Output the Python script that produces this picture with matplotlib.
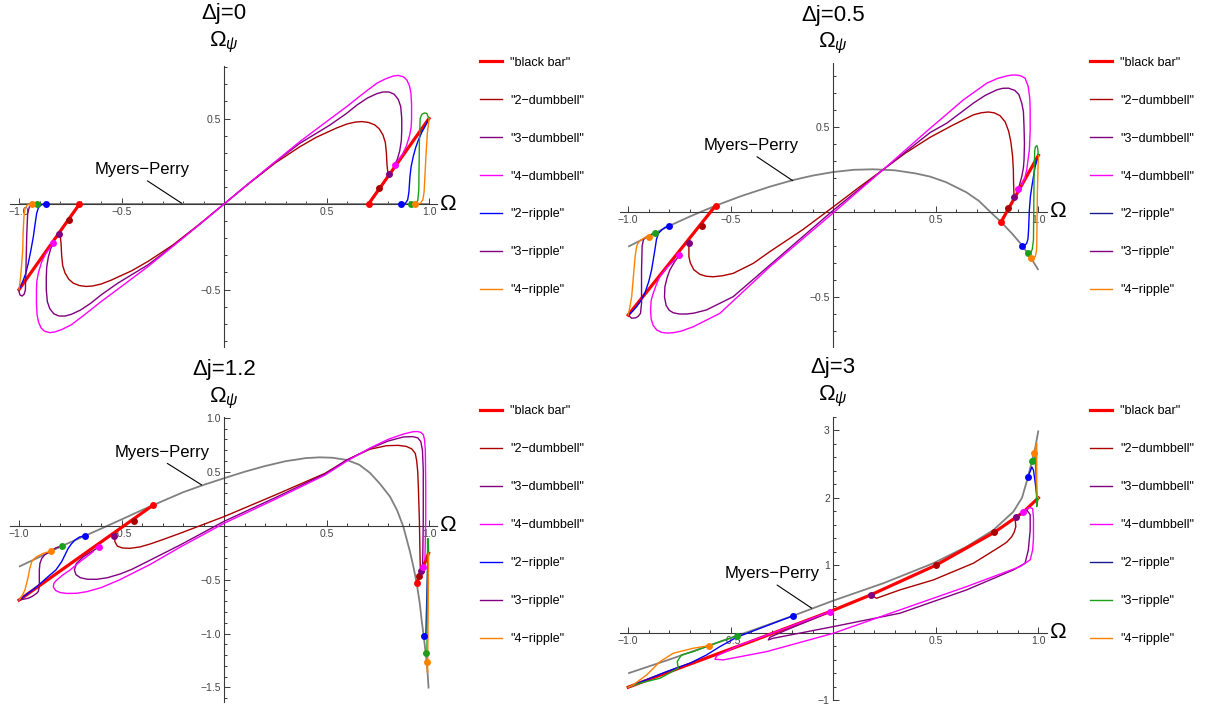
import numpy as np
import matplotlib
matplotlib.use("Agg")
import matplotlib.pyplot as plt
from matplotlib.lines import Line2D
from matplotlib.ticker import FixedLocator, FixedFormatter

plt.rcParams['font.family'] = ['Liberation Sans', 'DejaVu Sans']
plt.rcParams['mathtext.fontset'] = 'custom'
plt.rcParams['mathtext.rm'] = 'Liberation Sans'
plt.rcParams['mathtext.it'] = 'Liberation Sans:italic'

# ---------------- data ----------------
series = ['"black bar"', '"2\u2212dumbbell"', '"3\u2212dumbbell"', '"4\u2212dumbbell"',
          '"2\u2212ripple"', '"3\u2212ripple"', '"4\u2212ripple"']
titles = ['\u0394j=0', '\u0394j=0.5', '\u0394j=1.2', '\u0394j=3']

# Δj = 0
dj0_bar = [[(-1.0, -0.5), (-0.705, 0.0)], [(0.705, 0.0), (1.0, 0.5)]]
dj0_mp = [(-1.0, 0.0), (1.0, 0.0)]
dj0_d2 = [(0.80, 0.175), (0.795, 0.23), (0.792, 0.30), (0.787, 0.36), (0.775, 0.405), (0.757, 0.44),
          (0.735, 0.463), (0.705, 0.477), (0.672, 0.482), (0.64, 0.479), (0.60, 0.468), (0.55, 0.445),
          (0.45, 0.39), (0.37, 0.335), (0.25, 0.24), (0.12, 0.118), (0.0, 0.0),
          (-0.12, -0.118), (-0.25, -0.24), (-0.37, -0.335), (-0.45, -0.39), (-0.55, -0.445),
          (-0.60, -0.468), (-0.64, -0.479), (-0.672, -0.482), (-0.705, -0.477), (-0.735, -0.463),
          (-0.757, -0.44), (-0.775, -0.405), (-0.787, -0.36), (-0.792, -0.30), (-0.795, -0.23),
          (-0.80, -0.175)]
dj0_d3 = [(0.83, 0.225), (0.845, 0.26), (0.857, 0.31), (0.865, 0.37), (0.867, 0.43), (0.867, 0.50),
          (0.862, 0.57), (0.85, 0.612), (0.83, 0.642), (0.805, 0.655), (0.775, 0.655), (0.745, 0.645),
          (0.70, 0.62), (0.65, 0.58), (0.598, 0.53), (0.517, 0.462), (0.37, 0.355), (0.25, 0.245),
          (0.12, 0.12), (0.0, 0.0), (-0.12, -0.12), (-0.25, -0.245), (-0.37, -0.355), (-0.517, -0.462),
          (-0.598, -0.53), (-0.65, -0.58), (-0.70, -0.62), (-0.745, -0.645), (-0.775, -0.655),
          (-0.805, -0.655), (-0.83, -0.642), (-0.85, -0.612), (-0.862, -0.57), (-0.867, -0.50),
          (-0.867, -0.43), (-0.865, -0.37), (-0.857, -0.31), (-0.845, -0.26), (-0.83, -0.225)]
dj0_d4 = [(0.845, 0.25), (0.87, 0.29), (0.89, 0.34), (0.905, 0.40), (0.913, 0.45), (0.915, 0.50),
          (0.915, 0.58), (0.912, 0.647), (0.905, 0.69), (0.892, 0.725), (0.875, 0.744), (0.85, 0.752),
          (0.825, 0.748), (0.79, 0.733), (0.745, 0.706), (0.68, 0.647), (0.598, 0.569), (0.517, 0.497),
          (0.37, 0.365), (0.25, 0.248), (0.12, 0.12), (0.0, 0.0), (-0.12, -0.12), (-0.25, -0.248),
          (-0.37, -0.365), (-0.517, -0.497), (-0.598, -0.569), (-0.68, -0.647), (-0.745, -0.706),
          (-0.79, -0.733), (-0.825, -0.748), (-0.85, -0.752), (-0.875, -0.744), (-0.892, -0.725),
          (-0.905, -0.69), (-0.912, -0.647), (-0.915, -0.58), (-0.915, -0.50), (-0.913, -0.45),
          (-0.905, -0.40), (-0.89, -0.34), (-0.87, -0.29), (-0.845, -0.25)]
dj0_r2 = [[(-0.868, 0.0), (-0.89, -0.004), (-0.905, -0.02), (-0.914, -0.055), (-0.922, -0.12),
           (-0.93, -0.19), (-0.942, -0.27), (-0.955, -0.347), (-0.967, -0.405), (-0.979, -0.444),
           (-0.99, -0.475), (-1.0, -0.5)],
          [(0.865, 0.0), (0.885, 0.004), (0.896, 0.025), (0.902, 0.07), (0.907, 0.16), (0.913, 0.22),
           (0.923, 0.277), (0.935, 0.33), (0.948, 0.374), (0.965, 0.42), (0.98, 0.452), (1.0, 0.5)]]
dj0_r3 = [[(-0.912, 0.0), (-0.935, -0.004), (-0.95, -0.018), (-0.958, -0.06), (-0.962, -0.171),
           (-0.966, -0.367), (-0.969, -0.503), (-0.975, -0.527), (-0.985, -0.538), (-0.995, -0.532),
           (-1.0, -0.513), (-1.0, -0.5)],
          [(0.911, 0.0), (0.935, 0.003), (0.945, 0.02), (0.95, 0.08), (0.953, 0.355), (0.957, 0.50),
           (0.965, 0.525), (0.978, 0.532), (0.989, 0.53), (0.994, 0.515), (1.0, 0.5)]]
dj0_r4 = [[(-0.936, 0.0), (-0.958, -0.004), (-0.97, -0.025), (-0.976, -0.074), (-0.98, -0.17),
           (-0.982, -0.269), (-0.987, -0.35), (-0.992, -0.425), (-1.0, -0.5)],
          [(0.933, 0.0), (0.958, 0.004), (0.97, 0.025), (0.976, 0.07), (0.98, 0.16), (0.984, 0.257),
           (0.988, 0.34), (0.992, 0.413), (1.0, 0.5)]]
dj0_dots = [[(-0.705, 0.0), (0.705, 0.0)], [(-0.755, -0.094), (0.755, 0.094)],
            [(-0.803, -0.177), (0.803, 0.177)], [(-0.834, -0.23), (0.834, 0.23)],
            [(-0.868, 0.0), (0.865, 0.0)], [(-0.912, 0.0), (0.911, 0.0)],
            [(-0.936, 0.0), (0.933, 0.0)]]

# Δj = 0.5
dj05_bar = [[(-1.0, -0.606), (-0.574, 0.037)], [(0.818, -0.059), (1.0, 0.333)]]
dj05_mp = [(-1.0, -0.204), (-0.9, -0.143), (-0.8, -0.082), (-0.7, -0.027), (-0.574, 0.037),
           (-0.45, 0.093), (-0.309, 0.149), (-0.195, 0.188), (-0.1, 0.214), (0.0, 0.235), (0.1, 0.248),
           (0.195, 0.251), (0.3, 0.245), (0.4, 0.227), (0.472, 0.208), (0.55, 0.175), (0.65, 0.115),
           (0.71, 0.065), (0.764, 0.002), (0.818, -0.059), (0.87, -0.125), (0.922, -0.198),
           (0.963, -0.269), (1.0, -0.341)]
dj05_d2 = [(0.881, 0.10), (0.879, 0.17), (0.878, 0.247), (0.874, 0.33), (0.866, 0.41), (0.855, 0.475),
           (0.838, 0.53), (0.813, 0.566), (0.785, 0.583), (0.756, 0.588), (0.72, 0.583), (0.683, 0.571),
           (0.585, 0.512), (0.472, 0.439), (0.35, 0.345), (0.244, 0.25), (0.12, 0.14), (0.0, 0.03),
           (-0.15, -0.105), (-0.309, -0.233), (-0.39, -0.302), (-0.488, -0.361), (-0.54, -0.375),
           (-0.585, -0.381), (-0.62, -0.378), (-0.65, -0.367), (-0.68, -0.34), (-0.697, -0.30),
           (-0.704, -0.263), (-0.704, -0.18)]
dj05_d3 = [(0.902, 0.133), (0.919, 0.208), (0.927, 0.26), (0.930, 0.306), (0.932, 0.40), (0.930, 0.502),
           (0.927, 0.59), (0.919, 0.64), (0.905, 0.69), (0.885, 0.715), (0.854, 0.728), (0.825, 0.727),
           (0.797, 0.718), (0.74, 0.685), (0.683, 0.64), (0.553, 0.522), (0.472, 0.467), (0.244, 0.25),
           (0.0, 0.01), (-0.309, -0.312), (-0.488, -0.498), (-0.618, -0.576), (-0.68, -0.595),
           (-0.715, -0.60), (-0.75, -0.60), (-0.78, -0.593), (-0.80, -0.578), (-0.815, -0.55),
           (-0.823, -0.50), (-0.821, -0.439), (-0.81, -0.385), (-0.797, -0.341), (-0.775, -0.295),
           (-0.751, -0.255)]
dj05_d4 = [(0.919, 0.159), (0.935, 0.205), (0.943, 0.247), (0.956, 0.365), (0.96, 0.48), (0.96, 0.60),
           (0.958, 0.67), (0.95, 0.74), (0.935, 0.787), (0.915, 0.80), (0.895, 0.805), (0.87, 0.805),
           (0.846, 0.80), (0.80, 0.785), (0.748, 0.757), (0.634, 0.659), (0.52, 0.541), (0.472, 0.492),
           (0.244, 0.25), (0.0, -0.005), (-0.309, -0.322), (-0.553, -0.596), (-0.683, -0.675),
           (-0.74, -0.70), (-0.78, -0.71), (-0.81, -0.712), (-0.837, -0.708), (-0.86, -0.695),
           (-0.878, -0.668), (-0.888, -0.63), (-0.891, -0.576), (-0.888, -0.52), (-0.878, -0.478),
           (-0.862, -0.425), (-0.846, -0.38), (-0.81, -0.325), (-0.772, -0.282)]
dj05_r2 = [[(-0.799, -0.082), (-0.82, -0.09), (-0.837, -0.106), (-0.852, -0.125), (-0.862, -0.16),
            (-0.87, -0.224), (-0.886, -0.341), (-0.9, -0.41), (-0.919, -0.478), (-0.94, -0.525),
            (-0.959, -0.557), (-0.98, -0.585), (-1.0, -0.606)],
           [(0.922, -0.198), (0.935, -0.195), (0.943, -0.184), (0.949, -0.16), (0.952, -0.11),
            (0.956, 0.012), (0.961, 0.09), (0.968, 0.149), (0.984, 0.266), (1.0, 0.331)]]
dj05_r3 = [[(-0.87, -0.122), (-0.895, -0.136), (-0.91, -0.145), (-0.925, -0.16), (-0.932, -0.2),
            (-0.935, -0.341), (-0.935, -0.537), (-0.94, -0.596), (-0.95, -0.612), (-0.962, -0.622),
            (-0.983, -0.625), (-1.0, -0.606)],
           [(0.948, -0.243), (0.962, -0.24), (0.97, -0.22), (0.976, -0.165), (0.979, 0.208),
            (0.982, 0.36), (0.986, 0.384), (0.993, 0.39), (0.997, 0.37), (1.0, 0.331)]]
dj05_r4 = [[(-0.901, -0.145), (-0.925, -0.155), (-0.943, -0.169), (-0.953, -0.185), (-0.959, -0.204),
            (-0.966, -0.26), (-0.972, -0.341), (-0.983, -0.498), (-0.992, -0.56), (-1.0, -0.606)],
           [(0.963, -0.269), (0.975, -0.268), (0.984, -0.263), (0.99, -0.235), (0.992, -0.204),
            (0.995, 0.11), (0.998, 0.25), (1.0, 0.331)]]
dj05_dots = [[(-0.574, 0.037), (0.818, -0.059)], [(-0.642, -0.08), (0.854, 0.022)],
             [(-0.704, -0.18), (0.883, 0.09)], [(-0.751, -0.255), (0.902, 0.133)],
             [(-0.799, -0.082), (0.922, -0.198)], [(-0.87, -0.122), (0.948, -0.243)],
             [(-0.901, -0.145), (0.963, -0.269)]]

# Δj = 1.2
dj12_bar = [[(-1.0, -0.69), (-0.345, 0.192)], [(0.94, -0.534), (0.998, -0.256)]]
dj12_mp = [(-1.0, -0.38), (-0.9, -0.29), (-0.8, -0.196), (-0.7, -0.112), (-0.6, -0.028), (-0.5, 0.058),
           (-0.4, 0.145), (-0.3, 0.228), (-0.2, 0.31), (-0.1, 0.378), (0.0, 0.44), (0.1, 0.5),
           (0.2, 0.553), (0.3, 0.598), (0.4, 0.627), (0.468, 0.634), (0.53, 0.63), (0.6, 0.609),
           (0.66, 0.565), (0.712, 0.49), (0.76, 0.39), (0.81, 0.269), (0.845, 0.14), (0.875, -0.01),
           (0.907, -0.24), (0.925, -0.39), (0.94, -0.534), (0.955, -0.72), (0.964, -0.875),
           (0.974, -1.023), (0.984, -1.184), (0.989, -1.267), (0.994, -1.39), (0.998, -1.51)]
dj12_d2 = [(0.958, -0.43), (0.956, -0.256), (0.953, 0.053), (0.948, 0.362), (0.945, 0.5),
           (0.94, 0.6), (0.933, 0.67), (0.916, 0.712), (0.89, 0.735), (0.85, 0.745), (0.793, 0.742),
           (0.712, 0.709), (0.6, 0.61), (0.493, 0.486), (0.25, 0.285), (0.0, 0.084),
           (-0.215, -0.071), (-0.3, -0.13), (-0.361, -0.17), (-0.41, -0.197), (-0.459, -0.21),
           (-0.495, -0.207), (-0.52, -0.19), (-0.532, -0.15), (-0.535, -0.093)]
dj12_d3 = [(0.969, -0.38), (0.972, 0.053), (0.972, 0.517), (0.968, 0.70), (0.96, 0.78), (0.945, 0.815),
           (0.92, 0.826), (0.875, 0.823), (0.8, 0.785), (0.712, 0.715), (0.6, 0.61), (0.493, 0.48),
           (0.25, 0.26), (0.0, 0.04), (-0.215, -0.18), (-0.361, -0.32), (-0.45, -0.405),
           (-0.507, -0.448), (-0.57, -0.483), (-0.621, -0.497), (-0.665, -0.497), (-0.7, -0.483),
           (-0.722, -0.455), (-0.73, -0.41), (-0.72, -0.35), (-0.686, -0.288), (-0.608, -0.195)]
dj12_d4 = [(0.98, -0.318), (0.984, 0.053), (0.984, 0.362), (0.982, 0.70), (0.978, 0.80),
           (0.972, 0.845), (0.96, 0.865), (0.945, 0.873), (0.923, 0.872), (0.875, 0.85), (0.8, 0.80),
           (0.712, 0.72), (0.6, 0.60), (0.493, 0.47), (0.25, 0.245), (0.0, 0.022), (-0.215, -0.2),
           (-0.361, -0.36), (-0.507, -0.5), (-0.6, -0.575), (-0.67, -0.612), (-0.72, -0.627),
           (-0.767, -0.628), (-0.8, -0.62), (-0.822, -0.6), (-0.833, -0.566), (-0.83, -0.535),
           (-0.816, -0.504), (-0.785, -0.455), (-0.751, -0.411), (-0.7, -0.33), (-0.638, -0.241)]
dj12_r2 = [[(-0.678, -0.093), (-0.705, -0.105), (-0.727, -0.133), (-0.745, -0.17), (-0.76, -0.21),
            (-0.792, -0.334), (-0.82, -0.41), (-0.849, -0.457), (-0.914, -0.566), (-1.0, -0.69)],
           [(0.974, -1.023), (0.985, -1.0), (0.99, -0.6), (0.995, -0.26)]]
dj12_r3 = [[(-0.789, -0.186), (-0.82, -0.205), (-0.849, -0.241), (-0.875, -0.27), (-0.889, -0.303),
            (-0.898, -0.35), (-0.901, -0.411), (-0.901, -0.566), (-0.906, -0.61), (-0.914, -0.627),
            (-0.935, -0.655), (-0.955, -0.673), (-1.0, -0.69)],
           [(0.984, -1.184), (0.99, -1.17), (0.992, -0.6), (0.993, -0.12), (0.996, -0.12), (0.998, -0.256)]]
dj12_r4 = [[(-0.842, -0.235), (-0.88, -0.255), (-0.914, -0.288), (-0.928, -0.31), (-0.938, -0.334),
            (-0.948, -0.4), (-0.955, -0.473), (-0.971, -0.596), (-0.985, -0.65), (-1.0, -0.69)],
           [(0.989, -1.267), (0.993, -1.36), (0.996, -0.8), (0.998, -0.256)]]
dj12_dots = [[(-0.345, 0.192), (0.94, -0.534)], [(-0.439, 0.044), (0.953, -0.467)],
             [(-0.535, -0.093), (0.961, -0.417)], [(-0.608, -0.195), (0.969, -0.38)],
             [(-0.678, -0.093), (0.974, -1.023)], [(-0.789, -0.186), (0.984, -1.184)],
             [(-0.842, -0.235), (0.989, -1.267)]]

# Δj = 3
dj3_bar = [[(-1.0, -0.81), (-0.754, -0.529), (-0.4, -0.13), (-0.016, 0.312), (0.182, 0.559), (0.5, 1.0),
            (0.786, 1.49), (0.891, 1.712), (0.927, 1.79), (1.0, 2.0)]]
dj3_mp = [(-1.0, -0.604), (-0.8, -0.4), (-0.606, -0.193), (-0.471, -0.049), (-0.198, 0.248),
          (0.0, 0.475), (0.244, 0.733), (0.488, 1.03), (0.65, 1.276), (0.78, 1.52), (0.878, 1.795),
          (0.92, 2.0), (0.943, 2.24), (0.968, 2.54), (0.985, 2.75), (1.0, 3.0)]
dj3_d2 = [(0.886, 1.70), (0.89, 1.573), (0.882, 1.49), (0.87, 1.424), (0.845, 1.34), (0.813, 1.276),
          (0.683, 1.03), (0.488, 0.782), (0.325, 0.634), (0.211, 0.51), (0.195, 0.534), (0.182, 0.559)]
dj3_d3 = [(0.891, 1.712), (0.943, 1.82), (0.96, 1.75), (0.96, 1.52), (0.951, 1.227), (0.935, 1.03),
          (0.878, 0.93), (0.65, 0.634), (0.325, 0.288), (0.0, 0.089), (-0.293, -0.084), (-0.317, -0.108),
          (-0.309, -0.069), (-0.228, 0.04), (-0.1, 0.2), (-0.016, 0.312)]
dj3_d4 = [(0.927, 1.79), (0.955, 1.86), (0.972, 1.84), (0.976, 1.7), (0.976, 1.4), (0.972, 1.227),
          (0.96, 1.08), (0.911, 0.98), (0.65, 0.683), (0.325, 0.337), (0.0, -0.01), (-0.325, -0.282),
          (-0.537, -0.405), (-0.577, -0.395), (-0.569, -0.346), (-0.455, -0.183), (-0.3, -0.01),
          (-0.15, 0.16), (-0.016, 0.312)]
dj3_r2 = [[(-0.198, 0.248), (-0.471, -0.069), (-0.553, -0.208), (-0.618, -0.331), (-0.699, -0.454),
           (-0.813, -0.579), (-1.0, -0.81)],
          [(0.948, 2.315), (0.96, 2.39), (0.968, 2.46), (0.976, 2.41), (0.984, 2.24), (0.992, 2.04),
           (1.0, 2.0)]]
dj3_r3 = [[(-0.471, -0.049), (-0.54, -0.12), (-0.606, -0.193), (-0.683, -0.282), (-0.74, -0.331),
           (-0.761, -0.43), (-0.756, -0.529), (-0.845, -0.677), (-0.943, -0.751), (-1.0, -0.81)],
          [(0.971, 2.55), (0.984, 2.61), (0.989, 2.24), (0.992, 1.87), (0.995, 1.94), (1.0, 2.0)]]
dj3_r4 = [[(-0.606, -0.193), (-0.683, -0.232), (-0.78, -0.306), (-0.845, -0.43), (-0.91, -0.628),
           (-0.976, -0.776), (-1.0, -0.81)],
          [(0.981, 2.67), (0.992, 2.81), (0.992, 2.24), (0.995, 2.02), (1.0, 2.0)]]
dj3_dots = [[], [(0.5, 1.0), (0.786, 1.49)], [(0.182, 0.559), (0.891, 1.712)],
            [(-0.016, 0.312), (0.927, 1.79)], [(-0.198, 0.248), (0.948, 2.315)],
            [(-0.471, -0.049), (0.971, 2.55)], [(-0.606, -0.193), (0.981, 2.67)]]

# axis ticks
xticks = [-1.0, -0.5, 0.5, 1.0]
xtick_labels = ['\u22121.0', '\u22120.5', '0.5', '1.0']
yticks_small = [-0.5, 0.5]
ytick_labels_small = ['\u22120.5', '0.5']
yticks_12 = [-1.5, -1.0, -0.5, 0.5, 1.0]
ytick_labels_12 = ['\u22121.5', '\u22121.0', '\u22120.5', '0.5', '1.0']
yticks_3 = [-1, 1, 2, 3]
ytick_labels_3 = ['\u22121', '1', '2', '3']

# ---------------- style ----------------
RED = '#ff0000'
DARKRED = '#aa0000'
PURPLE = '#800080'
MAGENTA = '#ff00ff'
BLUE = '#0000ff'
NAVY = '#1a1a8c'
GREEN = '#1aa01a'
ORANGE = '#ff8000'
GRAY = '#808080'
AXC = '#3a3a3a'

W, H = 1219, 707
fig = plt.figure(figsize=(W / 100, H / 100), dpi=100)


def pts(p):
    a = np.array(p, dtype=float)
    return a[:, 0], a[:, 1]


def panel(px, py, xlim, ylim, title, title_y, bar, mp, d2, d3, d4, r2, r3, r4, dots,
          yt, ytl, yminor, mp_text, mp_tip, leg_xy, leg_r2, leg_r3, r3_left):
    ax = fig.add_axes([px[0] / W, 1 - py[1] / H, (px[1] - px[0]) / W, (py[1] - py[0]) / H])
    ax.set_xlim(xlim)
    ax.set_ylim(ylim)
    ax.patch.set_visible(False)
    for s in ['top', 'right']:
        ax.spines[s].set_visible(False)
    ax.spines['left'].set_position(('data', 0))
    ax.spines['bottom'].set_position(('data', 0))
    for s in ['left', 'bottom']:
        ax.spines[s].set_color(AXC)
        ax.spines[s].set_linewidth(0.8)
        ax.spines[s].set_zorder(2.5)
    ax.xaxis.set_major_locator(FixedLocator(xticks))
    ax.xaxis.set_major_formatter(FixedFormatter(xtick_labels))
    ax.xaxis.set_minor_locator(FixedLocator(np.round(np.arange(-1.0, 1.01, 0.1), 2)))
    ax.yaxis.set_major_locator(FixedLocator(yt))
    ax.yaxis.set_major_formatter(FixedFormatter(ytl))
    ax.yaxis.set_minor_locator(FixedLocator(yminor))
    ax.tick_params(which='both', direction='in', color=AXC, width=0.7)
    ax.tick_params(which='major', length=4.5, labelsize=7.5, labelcolor='#444444', pad=2.5)
    ax.tick_params(which='minor', length=2.5)

    ax.plot(*pts(mp), color=GRAY, lw=1.3, zorder=2, solid_capstyle='butt')
    for seg in bar:
        ax.plot(*pts(seg), color=RED, lw=2.3, zorder=3)
    ax.plot(*pts(d2), color=DARKRED, lw=1.0, zorder=3.2)
    ax.plot(*pts(d3), color=PURPLE, lw=1.0, zorder=3.2)
    ax.plot(*pts(d4), color=MAGENTA, lw=1.0, zorder=3.2)
    ax.plot(*pts(r2[0]), color=BLUE, lw=1.0, zorder=3.3)
    ax.plot(*pts(r2[1]), color=BLUE, lw=1.0, zorder=3.3)
    ax.plot(*pts(r3[0]), color=r3_left, lw=1.0, zorder=3.3)
    ax.plot(*pts(r3[1]), color=GREEN, lw=1.0, zorder=3.3)
    ax.plot(*pts(r4[0]), color=ORANGE, lw=1.0, zorder=3.3)
    ax.plot(*pts(r4[1]), color=ORANGE, lw=1.0, zorder=3.3)

    dot_colors = [RED, DARKRED, PURPLE, MAGENTA, BLUE, GREEN, ORANGE]
    for d, c in zip(dots, dot_colors):
        if d:
            ax.plot(*pts(d), 'o', color=c, ms=5, mec='none', zorder=5)

    ax.annotate('Myers\u2212Perry', xy=mp_tip, xytext=mp_text, ha='center', va='center',
                fontsize=12, zorder=6,
                arrowprops=dict(arrowstyle='-', lw=0.8, color='black', shrinkA=1, shrinkB=0,
                                relpos=(0.5, 0.0)))

    x0 = (px[0] * (xlim[1]) - px[1] * xlim[0]) / (xlim[1] - xlim[0])  # pixel of x = 0
    fig.text(x0 / W, 1 - title_y / H, title, ha='center', va='center', fontsize=16)
    fig.text(x0 / W, 1 - (title_y + 28) / H, r'$\mathregular{\Omega}_{\psi}$', ha='center',
             va='center', fontsize=16)
    ax.text(xlim[1] + 0.015, 0, '\u03a9', ha='left', va='center', fontsize=16)

    leg_colors = [RED, DARKRED, PURPLE, MAGENTA, leg_r2, leg_r3, ORANGE]
    handles = [Line2D([], [], color=c, lw=2.3 if i == 0 else 1.0) for i, c in enumerate(leg_colors)]
    fig.legend(handles, series, loc='upper left', bbox_to_anchor=(leg_xy[0] / W, 1 - leg_xy[1] / H),
               frameon=False, fontsize=9, handlelength=1.75, handletextpad=0.65,
               labelspacing=2.08, borderpad=0, borderaxespad=0)
    return ax


minor_01 = np.round(np.arange(-1.6, 1.01, 0.1), 2)
minor_02 = np.round(np.arange(-1.0, 3.21, 0.2), 2)

panel((10, 437), (66, 347), (-1.044, 1.039), (-0.836, 0.807), titles[0], 14,
      dj0_bar, dj0_mp, dj0_d2, dj0_d3, dj0_d4, dj0_r2, dj0_r3, dj0_r4, dj0_dots,
      yticks_small, ytick_labels_small, minor_01, (-0.40, 0.20), (-0.206, 0.004),
      (480, 56.5), BLUE, PURPLE, PURPLE)
panel((620, 1047), (63, 347), (-1.040, 1.042), (-0.794, 0.876), titles[1], 15,
      dj05_bar, dj05_mp, dj05_d2, dj05_d3, dj05_d4, dj05_r2, dj05_r3, dj05_r4, dj05_dots,
      yticks_small, ytick_labels_small, minor_01, (-0.398, 0.39), (-0.198, 0.184),
      (1090, 56.5), NAVY, PURPLE, PURPLE)
panel((10, 437), (417, 702), (-1.044, 1.039), (-1.635, 1.008), titles[2], 370,
      dj12_bar, dj12_mp, dj12_d2, dj12_d3, dj12_d4, dj12_r2, dj12_r3, dj12_r4, dj12_dots,
      yticks_12, ytick_labels_12, minor_01, (-0.304, 0.68), (-0.109, 0.378),
      (480, 405), BLUE, PURPLE, PURPLE)
panel((620, 1047), (417, 700), (-1.040, 1.042), (-1.0, 3.2), titles[3], 368,
      dj3_bar, dj3_mp, dj3_d2, dj3_d3, dj3_d4, dj3_r2, dj3_r3, dj3_r4, dj3_dots,
      yticks_3, ytick_labels_3, minor_02, (-0.30, 0.87), (-0.105, 0.362),
      (1090, 405), NAVY, GREEN, GREEN)

fig.savefig('out.png', dpi=100)
